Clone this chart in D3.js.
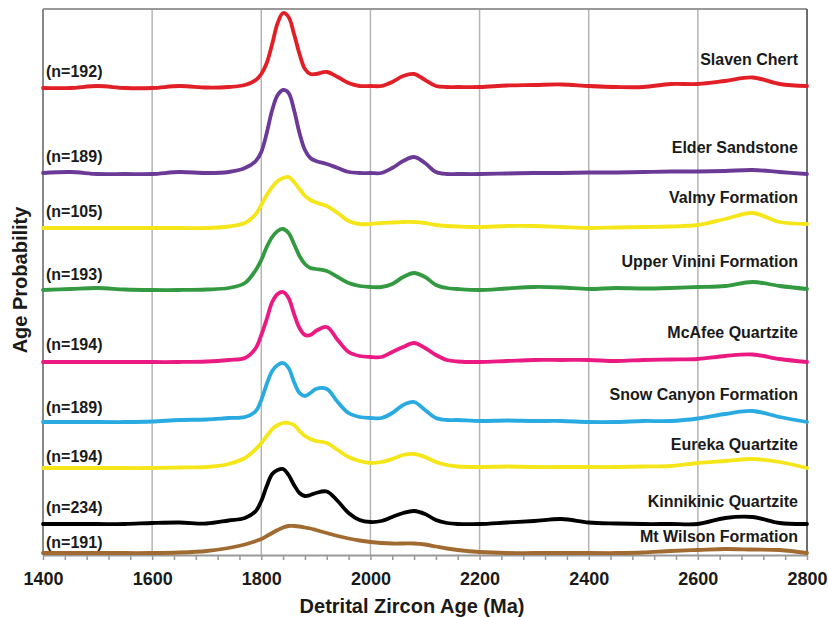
<!DOCTYPE html>
<html><head><meta charset="utf-8">
<script src="https://cdn.jsdelivr.net/npm/d3@7"></script>
<style>body{margin:0;background:#fff}</style>
</head><body><svg id="c" width="828" height="617"></svg>
<script>
// ---------- DATA ----------
const ages = [1400,1450,1500,1550,1600,1650,1700,1740,1770,1790,
  1800,1810,1820,1830,1840,1850,1860,1870,1880,1890,1900,
  1920,1940,1960,1980,2000,2020,2040,2060,2080,2100,2120,2140,2160,
  2200,2250,2300,2350,2400,2450,2500,2550,2600,2650,2700,2750,2800];

const slavenChert = [0,0,2,0,0,2,0.5, 1,3,8,
  14,25,44,65,75,71,54,34,19,14,14,
  16,11,5,2,2,2,6,12,14,8,2,1,1,
  1,2.5,3,3.5,2,1,1,4,4,7,10.5,4,2];
const elderSandstone = [1,2,0,0,0,2,1, 2,6,13,
  22,41,64,79,84,81,64,41,24,16,13,
  10,6,2,1,1,1,6,13,17,11,2,0,0,
  0,0.5,1,1,1.5,1.5,2,2.5,2.5,3,4,2,0];
const valmyFormation = [0,0,0,0,0,0,0, 1.5,5,14,
  23,33,41,47,50,51,46,39,32,28,25.5,
  22,15,7,4,4,5,5.5,6,6,5,3,2,1.5,
  1,2,2,1,0,0.5,1,1.5,3,9,15,6,4];
const upperVinini = [0,1,2,0.5,0,0,0.5, 2,7,20,
  30,43,53,59,61,57,46,34,26,22,21,
  19,13,7,4,3,3,6,13,17,13,5,2,1,
  0,1.5,3,2.5,1,2,1.5,2,3,4,8,4,1];
const mcafeeQuartzite = [0,0,0,0,0,0,0.5, 2,4,14,
  27,43,60,68,70,64,48,34,27,27,31,
  35,22,10,6,5,5,10,15,19,14,7,2,0.5,
  0,1,2,2,2,1,2,2.5,3,6,7.5,3,0];
const snowCanyon = [0,0,0,0,0.5,2,2.5, 4,5,11,
  22,38,51,57,59,54,40,29,26,29,33,
  33,20,9,5,4,4,9,17,20,12,4,2,2,
  1,1.5,1,1,0,0,1,1,3.5,8,11,5,0];
const eurekaQuartzite = [0,0,0,0,0,0.5,1, 4,10,19,
  25,32,39,43,45,45,43,37,32,29,27,
  25,18,11,7,5,6,9,13,14,11,6,3,1.5,
  1,1.5,1,1,1,1,1.5,2,5,7,9,6,0];
const kinnikinic = [0,0,0,0,1,1.5,0.5, 3.5,6,13,
  23,38,50,54,55,49,39,31,28,29,31,
  32.5,23,11,4,2,3,7,11,13,10,4,1,0,
  0,1.5,3,5,1.5,0.5,0,0,0,6,7,1,0];
const mtWilson = [0,0,0,0,0,0.5,2, 5,8.5,12,
  14,17,20,23,25.5,27,27,26.5,25.5,24.5,23,
  20,17,14.5,12.5,11,10,9.5,9.5,9.5,8.5,6.5,4.5,3,
  1,0,0,0,0,0,0.5,2,3,4,3.5,3,0];

const seriesValues = [slavenChert, elderSandstone, valmyFormation, upperVinini,
  mcafeeQuartzite, snowCanyon, eurekaQuartzite, kinnikinic, mtWilson];
const seriesNames = ["Slaven Chert","Elder Sandstone","Valmy Formation","Upper Vinini Formation",
  "McAfee Quartzite","Snow Canyon Formation","Eureka Quartzite","Kinnikinic Quartzite","Mt Wilson Formation"];
const sampleCounts = [192,189,105,193,194,189,194,234,191];
const xTickLabels = [1400,1600,1800,2000,2200,2400,2600,2800];

// ---------- LAYOUT / STYLE ----------
const seriesOffset = [467,381,327,265,193,133,87,31,2];
const colors = ["#e21f26","#6b3a96","#f5e61a","#349a42","#ea1a82","#29aae1","#f5e61a","#000000","#a06a30"];
const nLabelDy = [-11,-12,-11.5,-10,-12,-9,-6.5,-11,-5];
const nameLabelDy = [-23,-21,-25,-23.5,-24,-22,-18,-17.5,-11.5];
const FONT = "'Liberation Sans', Arial, Helvetica, sans-serif";

const svg = d3.select('#c');
const L = 43, R = 807, T = 9, B = 555;
const x = d3.scaleLinear().domain([1400,2800]).range([L,R]);
const y = d3.scaleLinear().domain([0,546]).range([B,T]);

// grid
svg.append('g').selectAll('line').data(xTickLabels.slice(1,-1)).join('line')
  .attr('x1',d=>x(d)).attr('x2',d=>x(d)).attr('y1',T).attr('y2',B)
  .attr('stroke','#b4b4b4').attr('stroke-width',1.5);
// frame
svg.append('line').attr('x1',L).attr('x2',R).attr('y1',T).attr('y2',T).attr('stroke','#999').attr('stroke-width',2);
svg.append('line').attr('x1',L).attr('x2',L).attr('y1',T).attr('y2',B).attr('stroke','#888').attr('stroke-width',2);
svg.append('line').attr('x1',R).attr('x2',R).attr('y1',T).attr('y2',B).attr('stroke','#6e6e6e').attr('stroke-width',2);

// axis
const axis = d3.axisBottom(x).tickValues(d3.range(1400,2801,40)).tickSize(5).tickSizeOuter(0)
  .tickFormat(d => (d % 200 === 0) ? d : "");
const gA = svg.append('g').attr('transform',`translate(0,${B})`).call(axis);
gA.select('.domain').attr('stroke','#999').attr('stroke-width',2);
gA.selectAll('.tick line').attr('stroke','#999').attr('stroke-width',1.5);
gA.selectAll('.tick text').attr('y',30).attr('dy',0)
  .attr('font-family',FONT).attr('font-weight','bold').attr('font-size',18).attr('fill','#1a1a1a');

// curves
const line = d3.line().curve(d3.curveCatmullRom.alpha(0.5));
seriesValues.forEach((vals,k)=>{
  const pts = vals.map((v,i)=>[x(ages[i]), y(seriesOffset[k]+v)]);
  svg.append('path').attr('d',line(pts)).attr('fill','none')
    .attr('stroke',colors[k]).attr('stroke-width',3.8)
    .attr('stroke-linejoin','round').attr('stroke-linecap','round');
});

// labels
const labG = svg.append('g').attr('font-family',FONT).attr('font-weight','bold').attr('font-size',16).attr('fill','#1a1a1a');
seriesNames.forEach((nm,k)=>{
  const base = y(seriesOffset[k]);
  labG.append('text').attr('x',46).attr('y',base+nLabelDy[k]).text(`(n=${sampleCounts[k]})`);
  labG.append('text').attr('x',798).attr('y',base+nameLabelDy[k]).attr('text-anchor','end').text(nm);
});

// axis titles
svg.append('text').attr('x',412).attr('y',613).attr('text-anchor','middle')
  .attr('font-family',FONT).attr('font-weight','bold').attr('font-size',20).attr('fill','#1a1a1a')
  .text('Detrital Zircon Age (Ma)');
svg.append('text').attr('transform','translate(27,280) rotate(-90)').attr('text-anchor','middle')
  .attr('font-family',FONT).attr('font-weight','bold').attr('font-size',20).attr('fill','#1a1a1a')
  .text('Age Probability');
</script></body></html>
